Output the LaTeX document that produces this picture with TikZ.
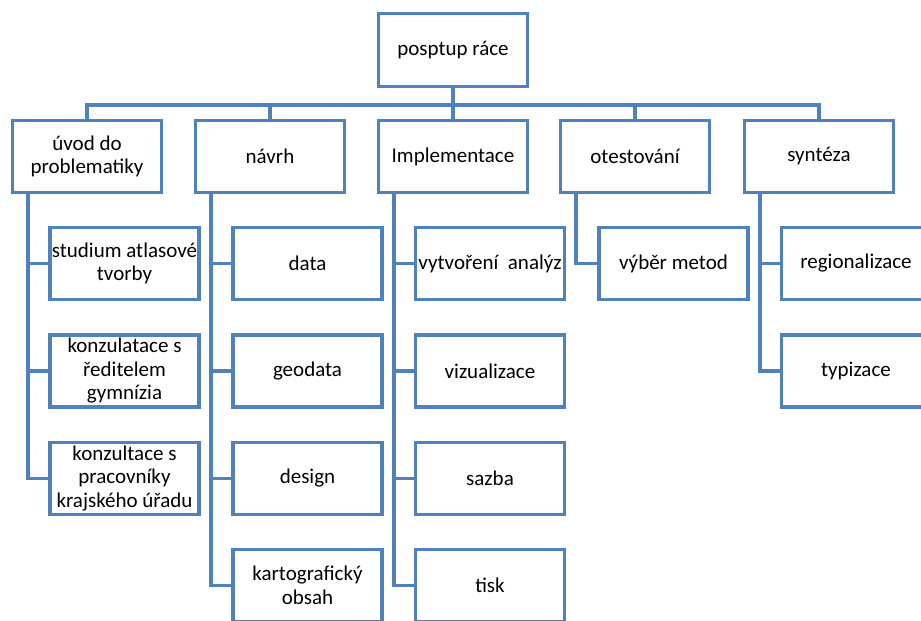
\documentclass[tikz,border=0pt]{standalone}
\usepackage{fontspec}
\setmainfont{Carlito}
\usetikzlibrary{positioning}
\definecolor{boxblue}{HTML}{4F81BD}

\begin{document}
\begin{tikzpicture}
	[x=1pt, y=-1pt,
	main/.style = {draw=boxblue, line width=3.6pt, fill=white,
	minimum width=149pt, minimum height=72pt, align=center, inner sep=1pt,
	font=\fontsize{21}{23.5}\selectfont},
	link/.style = {draw=boxblue, line width=3.6pt}]
	\useasboundingbox (0,0) rectangle (921,621);
	\clip (0,0) rectangle (921,621);
	\node[main, minimum height=73pt] (top) at (453,50) {posptup ráce};
	\foreach \name/\x/\txt in {uvod/87/úvod do\\problematiky, navrh/270/návrh,
		impl/453/Implementace, test/635/otestování, synt/819/syntéza} {
		\node[main] (\name) at (\x,156.5) {\txt};
		\draw[link] (top.south) -- ++(0,16.5) -| (\name.north);
	}
	% uvod do problematiky
	\node[main] (u1) at (124.5,263.5) {studium atlasové\\tvorby};
	\node[main] (u2) at (124.5,371) {konzulatace s\\ředitelem\\gymnízia};
	\node[main] (u3) at (124.5,478.5) {konzultace s\\pracovníky\\krajského úřadu};
	% navrh
	\node[main] (n1) at (307.5,263.5) {data};
	\node[main] (n2) at (307.5,371) {geodata};
	\node[main] (n3) at (307.5,478.5) {design};
	\node[main] (n4) at (307.5,585.5) {kartografický\\obsah};
	% implementace
	\node[main] (i1) at (490,263.5) {vytvoření~ analýz};
	\node[main] (i2) at (490,371) {vizualizace};
	\node[main] (i3) at (490,478.5) {sazba};
	\node[main] (i4) at (490,585.5) {tisk};
	% otestovani
	\node[main] (t1) at (673.5,263.5) {výběr metod};
	% synteza
	\node[main] (s1) at (856,263.5) {regionalizace};
	\node[main] (s2) at (856,371) {typizace};
	\foreach \p/\k in {uvod/u1, uvod/u2, uvod/u3,
		navrh/n1, navrh/n2, navrh/n3, navrh/n4,
		impl/i1, impl/i2, impl/i3, impl/i4,
		test/t1, synt/s1, synt/s2} {
		\draw[link] ([xshift=17pt]\p.south west) |- (\k.west);
	}
\end{tikzpicture}
\end{document}
